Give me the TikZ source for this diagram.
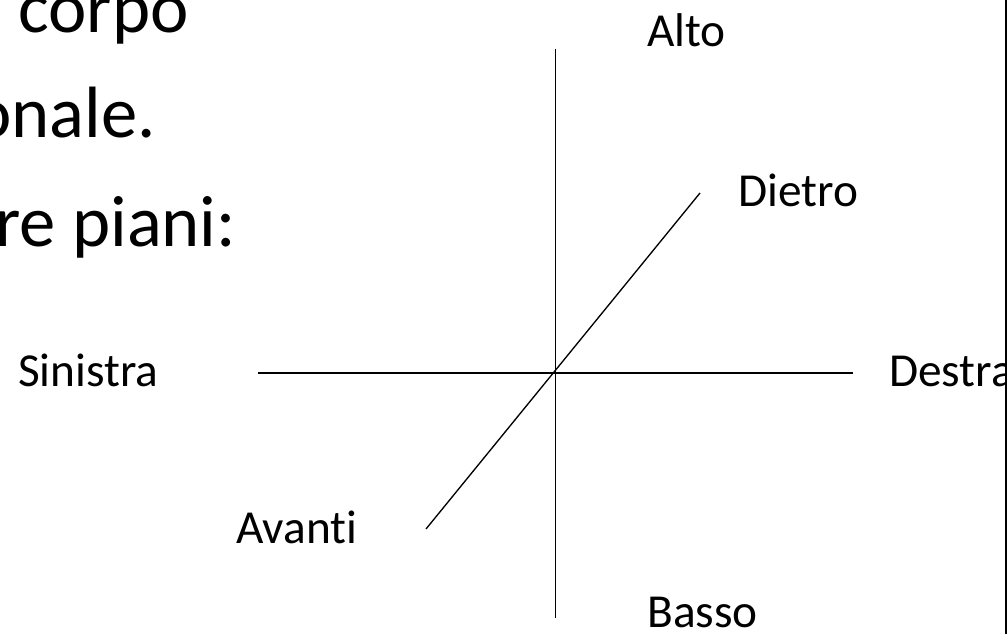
\documentclass[tikz,border=0pt]{standalone}
\usepackage{fontspec}
\setmainfont{Carlito}[Ligatures=NoCommon]
\begin{document}
\begin{tikzpicture}[x=0.75pt,y=-0.75pt,
  lbl/.style={inner sep=0pt,anchor=base west,font=\fontsize{35.5}{42}\selectfont},
  big/.style={inner sep=0pt,anchor=base west,font=\fontsize{54.5}{64}\selectfont},
  axis/.style={line width=1pt,black}]
\useasboundingbox (0,0) rectangle (1007,634);
\clip (0,0) rectangle (1007,634);
% big text (cut off at left)
\node[big] (t1) at (18,33) {corpo};
\node[big] (t2) at (-27,138) {onale.};
\node[big] (t3) at (-5,247) {re piani:};
% labels
\node[lbl] (alto) at (647,47) {Alto};
\node[lbl] (dietro) at (738,207) {Dietro};
\node[lbl] (sinistra) at (18,387) {Sinistra};
\node[lbl] (destra) at (889,387) {Destra};
\node[lbl] (avanti) at (236,543) {Avanti};
\node[lbl] (basso) at (647,627) {Basso};
% axes
\coordinate (vtop) at (555.5,49);
\coordinate (vbot) at (555.5,618);
\coordinate (hl) at (258,373);
\coordinate (hr) at (853,373);
\coordinate (dfront) at (426,529);
\coordinate (dback) at (700,193);
\draw[axis] (vtop) -- (vbot);
\draw[axis] (hl) -- (hr);
\draw[axis] (dfront) -- (dback);
% right edge bar
\fill[black] (1005,0) rectangle (1007,634);
\end{tikzpicture}
\end{document}
